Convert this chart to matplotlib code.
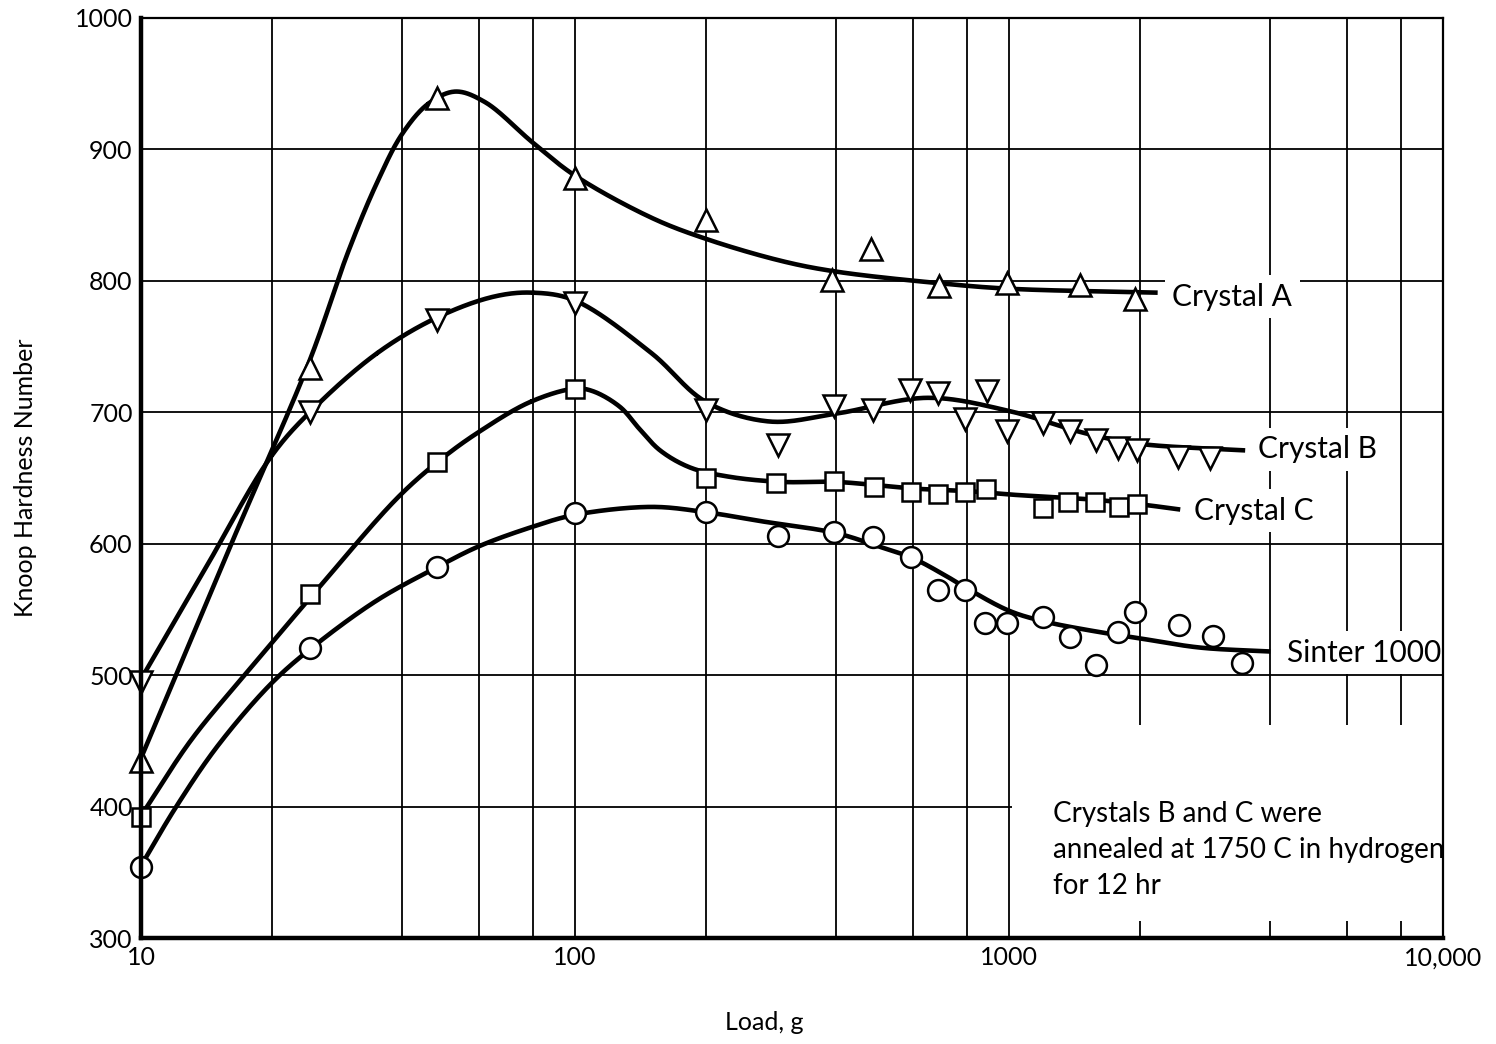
'''Knoop hardness vs load, recreated with matplotlib'''
import numpy as np
import matplotlib
matplotlib.use('Agg')
import matplotlib.pyplot as plt
from matplotlib.ticker import FixedLocator, FixedFormatter, NullFormatter
from matplotlib.patches import Rectangle

plt.rcParams['font.family'] = ['Lato', 'DejaVu Sans']

'''Measured points (load in g, Knoop hardness number)'''
a_load = [10, 24.5, 48, 100, 200, 390, 480, 690, 990, 1460, 1950]
a_hk = [435, 734, 939, 878, 846, 801, 824, 796, 798, 797, 786]

b_load = [10, 24.5, 48, 100, 200, 294, 395, 487, 590, 685, 792, 889, 991,
          1200, 1380, 1590, 1780, 1970, 2450, 2900]
b_hk = [495, 700, 770, 783, 702, 675, 705, 702, 717, 715, 695, 716, 686,
        692, 686, 679, 673, 671, 666, 665]

c_load = [10, 24.5, 48, 100, 200, 291, 394, 489, 594, 687, 792, 885,
          1200, 1370, 1580, 1790, 1970]
c_hk = [392, 562, 662, 718, 650, 646, 648, 643, 639, 638, 639, 642,
        627, 632, 632, 628, 630]

s_load = [10, 24.5, 48, 100, 200, 294, 394, 487, 594, 686, 792, 881, 988,
          1200, 1380, 1590, 1780, 1950, 2470, 2950, 3440]
s_hk = [354, 521, 582, 623, 624, 606, 609, 605, 590, 565, 565, 540, 540,
        544, 529, 508, 533, 548, 538, 530, 509]

'''Hand-drawn fitted curves, read off the picture as knots'''
a_curve_load = [10, 16, 24.5, 30, 35, 40, 46, 53, 62, 80, 100, 150, 200,
                300, 400, 700, 1000, 2200]
a_curve_hk = [437, 597, 740, 822, 875, 912, 935, 944, 936, 905, 880, 848,
              832, 815, 807, 798, 794, 791]

b_curve_load = [10, 14, 20, 25, 35, 48, 65, 80, 100, 150, 200, 280, 400,
                650, 1000, 1500, 2000, 3500]
b_curve_hk = [497, 580, 667, 703, 745, 772, 788, 791, 785, 745, 708, 693,
              699, 711, 701, 684, 676, 671]

c_curve_load = [10, 13, 17, 25, 39, 49, 60, 79, 100, 110, 127, 141,
                157, 184, 226, 300, 400, 600, 800, 1050, 1500, 2000, 2480]
c_curve_hk = [393, 450, 497, 562, 635, 664, 685, 708, 718, 716,
              704, 687, 671, 658, 651, 647, 647, 642, 640, 637, 634, 630, 626]

s_curve_load = [10, 12, 15, 20, 25, 35, 48, 60, 80, 100, 150, 200, 270, 400,
                500, 600, 720, 800, 1000, 1200, 1600, 2000, 2750, 4000]
s_curve_hk = [355, 399, 446, 494, 522, 557, 582, 598, 613, 622, 628, 624,
              617, 608, 598, 589, 575, 566, 549, 541, 533, 528, 521, 518]

series_names = ['Crystal A', 'Crystal B', 'Crystal C', 'Sinter 1000']
series_markers = ['^', 'v', 's', 'o']
label_load = [2380, 3750, 2670, 4370]
label_hk = [788, 672, 625, 517]

major_ticks = [10, 100, 1000, 10000]
major_labels = ['10', '100', '1000', '10,000']
minor_ticks = [20, 40, 60, 80, 200, 400, 600, 800, 2000, 4000, 6000, 8000]
y_ticks = [300, 400, 500, 600, 700, 800, 900, 1000]

note = 'Crystals B and C were\nannealed at 1750 C in hydrogen\nfor 12 hr'


def smooth_curve(xk, yk, n=40):
    # centripetal Catmull-Rom through the knots, worked in log-x space
    u = np.log10(np.asarray(xk, float)) * 434.0
    v = np.asarray(yk, float) * 1.314
    P = np.column_stack([u, v])
    P = np.vstack([2 * P[0] - P[1], P, 2 * P[-1] - P[-2]])
    out = []
    for i in range(1, len(P) - 2):
        p0, p1, p2, p3 = P[i - 1], P[i], P[i + 1], P[i + 2]
        t0 = 0.0
        t1 = t0 + np.linalg.norm(p1 - p0) ** 0.5
        t2 = t1 + np.linalg.norm(p2 - p1) ** 0.5
        t3 = t2 + np.linalg.norm(p3 - p2) ** 0.5
        t = np.linspace(t1, t2, n)[:, None]
        a1 = (t1 - t) / (t1 - t0) * p0 + (t - t0) / (t1 - t0) * p1
        a2 = (t2 - t) / (t2 - t1) * p1 + (t - t1) / (t2 - t1) * p2
        a3 = (t3 - t) / (t3 - t2) * p2 + (t - t2) / (t3 - t2) * p3
        b1 = (t2 - t) / (t2 - t0) * a1 + (t - t0) / (t2 - t0) * a2
        b2 = (t3 - t) / (t3 - t1) * a2 + (t - t1) / (t3 - t1) * a3
        c = (t2 - t) / (t2 - t1) * b1 + (t - t1) / (t2 - t1) * b2
        out.append(c)
    out = np.vstack(out)
    return 10 ** (out[:, 0] / 434.0), out[:, 1] / 1.314


fig = plt.figure(figsize=(14.96, 10.44), dpi=100)
ax = fig.add_axes([0.0943, 0.1015, 0.8703, 0.8813])
ax.set_xscale('log')
ax.set_xlim(10, 10000)
ax.set_ylim(300, 1000)

'''Grid'''
ax.xaxis.set_major_locator(FixedLocator(major_ticks))
ax.xaxis.set_major_formatter(FixedFormatter(major_labels))
ax.xaxis.set_minor_locator(FixedLocator(minor_ticks))
ax.xaxis.set_minor_formatter(NullFormatter())
ax.set_yticks(y_ticks)
ax.set_axisbelow(True)
ax.grid(which='both', color='black', linewidth=1.3)
ax.tick_params(which='both', length=0, labelsize=18)
ax.tick_params(axis='x', pad=6)
ax.tick_params(axis='y', pad=6)

for side in ['left', 'bottom']:
    ax.spines[side].set_linewidth(3.2)
for side in ['top', 'right']:
    ax.spines[side].set_linewidth(1.6)
for sp in ax.spines.values():
    sp.set_zorder(6)

'''Curves and points'''
curves = [(a_curve_load, a_curve_hk), (b_curve_load, b_curve_hk),
          (c_curve_load, c_curve_hk), (s_curve_load, s_curve_hk)]
points = [(a_load, a_hk), (b_load, b_hk), (c_load, c_hk), (s_load, s_hk)]

for (cx, cy), (px, py), mk in zip(curves, points, series_markers):
    sx, sy = smooth_curve(cx, cy)
    ax.plot(sx, sy, color='black', lw=3.3, solid_capstyle='butt',
            solid_joinstyle='round', zorder=3)
    ms = 16 if mk in '^v' else (13 if mk == 's' else 15)
    ax.plot(px, py, linestyle='none', marker=mk, markersize=ms,
            markerfacecolor='white', markeredgecolor='black',
            markeredgewidth=1.8, zorder=4, clip_on=False)

for name, lx, ly in zip(series_names, label_load, label_hk):
    ax.text(lx, ly, name, ha='left', va='center', fontsize=21.5, zorder=2,
            bbox=dict(boxstyle='square,pad=0.25', fc='white', ec='none'))

'''Note box (blanks out the grid behind it)'''
ax.add_patch(Rectangle((0.669, 0.018), 0.331, 0.213, transform=ax.transAxes,
                       facecolor='white', edgecolor='none', zorder=1))
ax.text(0.7005, 0.096, note, transform=ax.transAxes, ha='left', va='center',
        fontsize=20, linespacing=1.47, zorder=2)

ax.set_xlabel('Load, g', fontsize=18)
ax.xaxis.set_label_coords(0.479, -0.079)
ax.set_ylabel('Knoop Hardness Number', fontsize=18)
ax.yaxis.set_label_coords(-0.08, 0.5)

fig.savefig('out.png', dpi=100)
